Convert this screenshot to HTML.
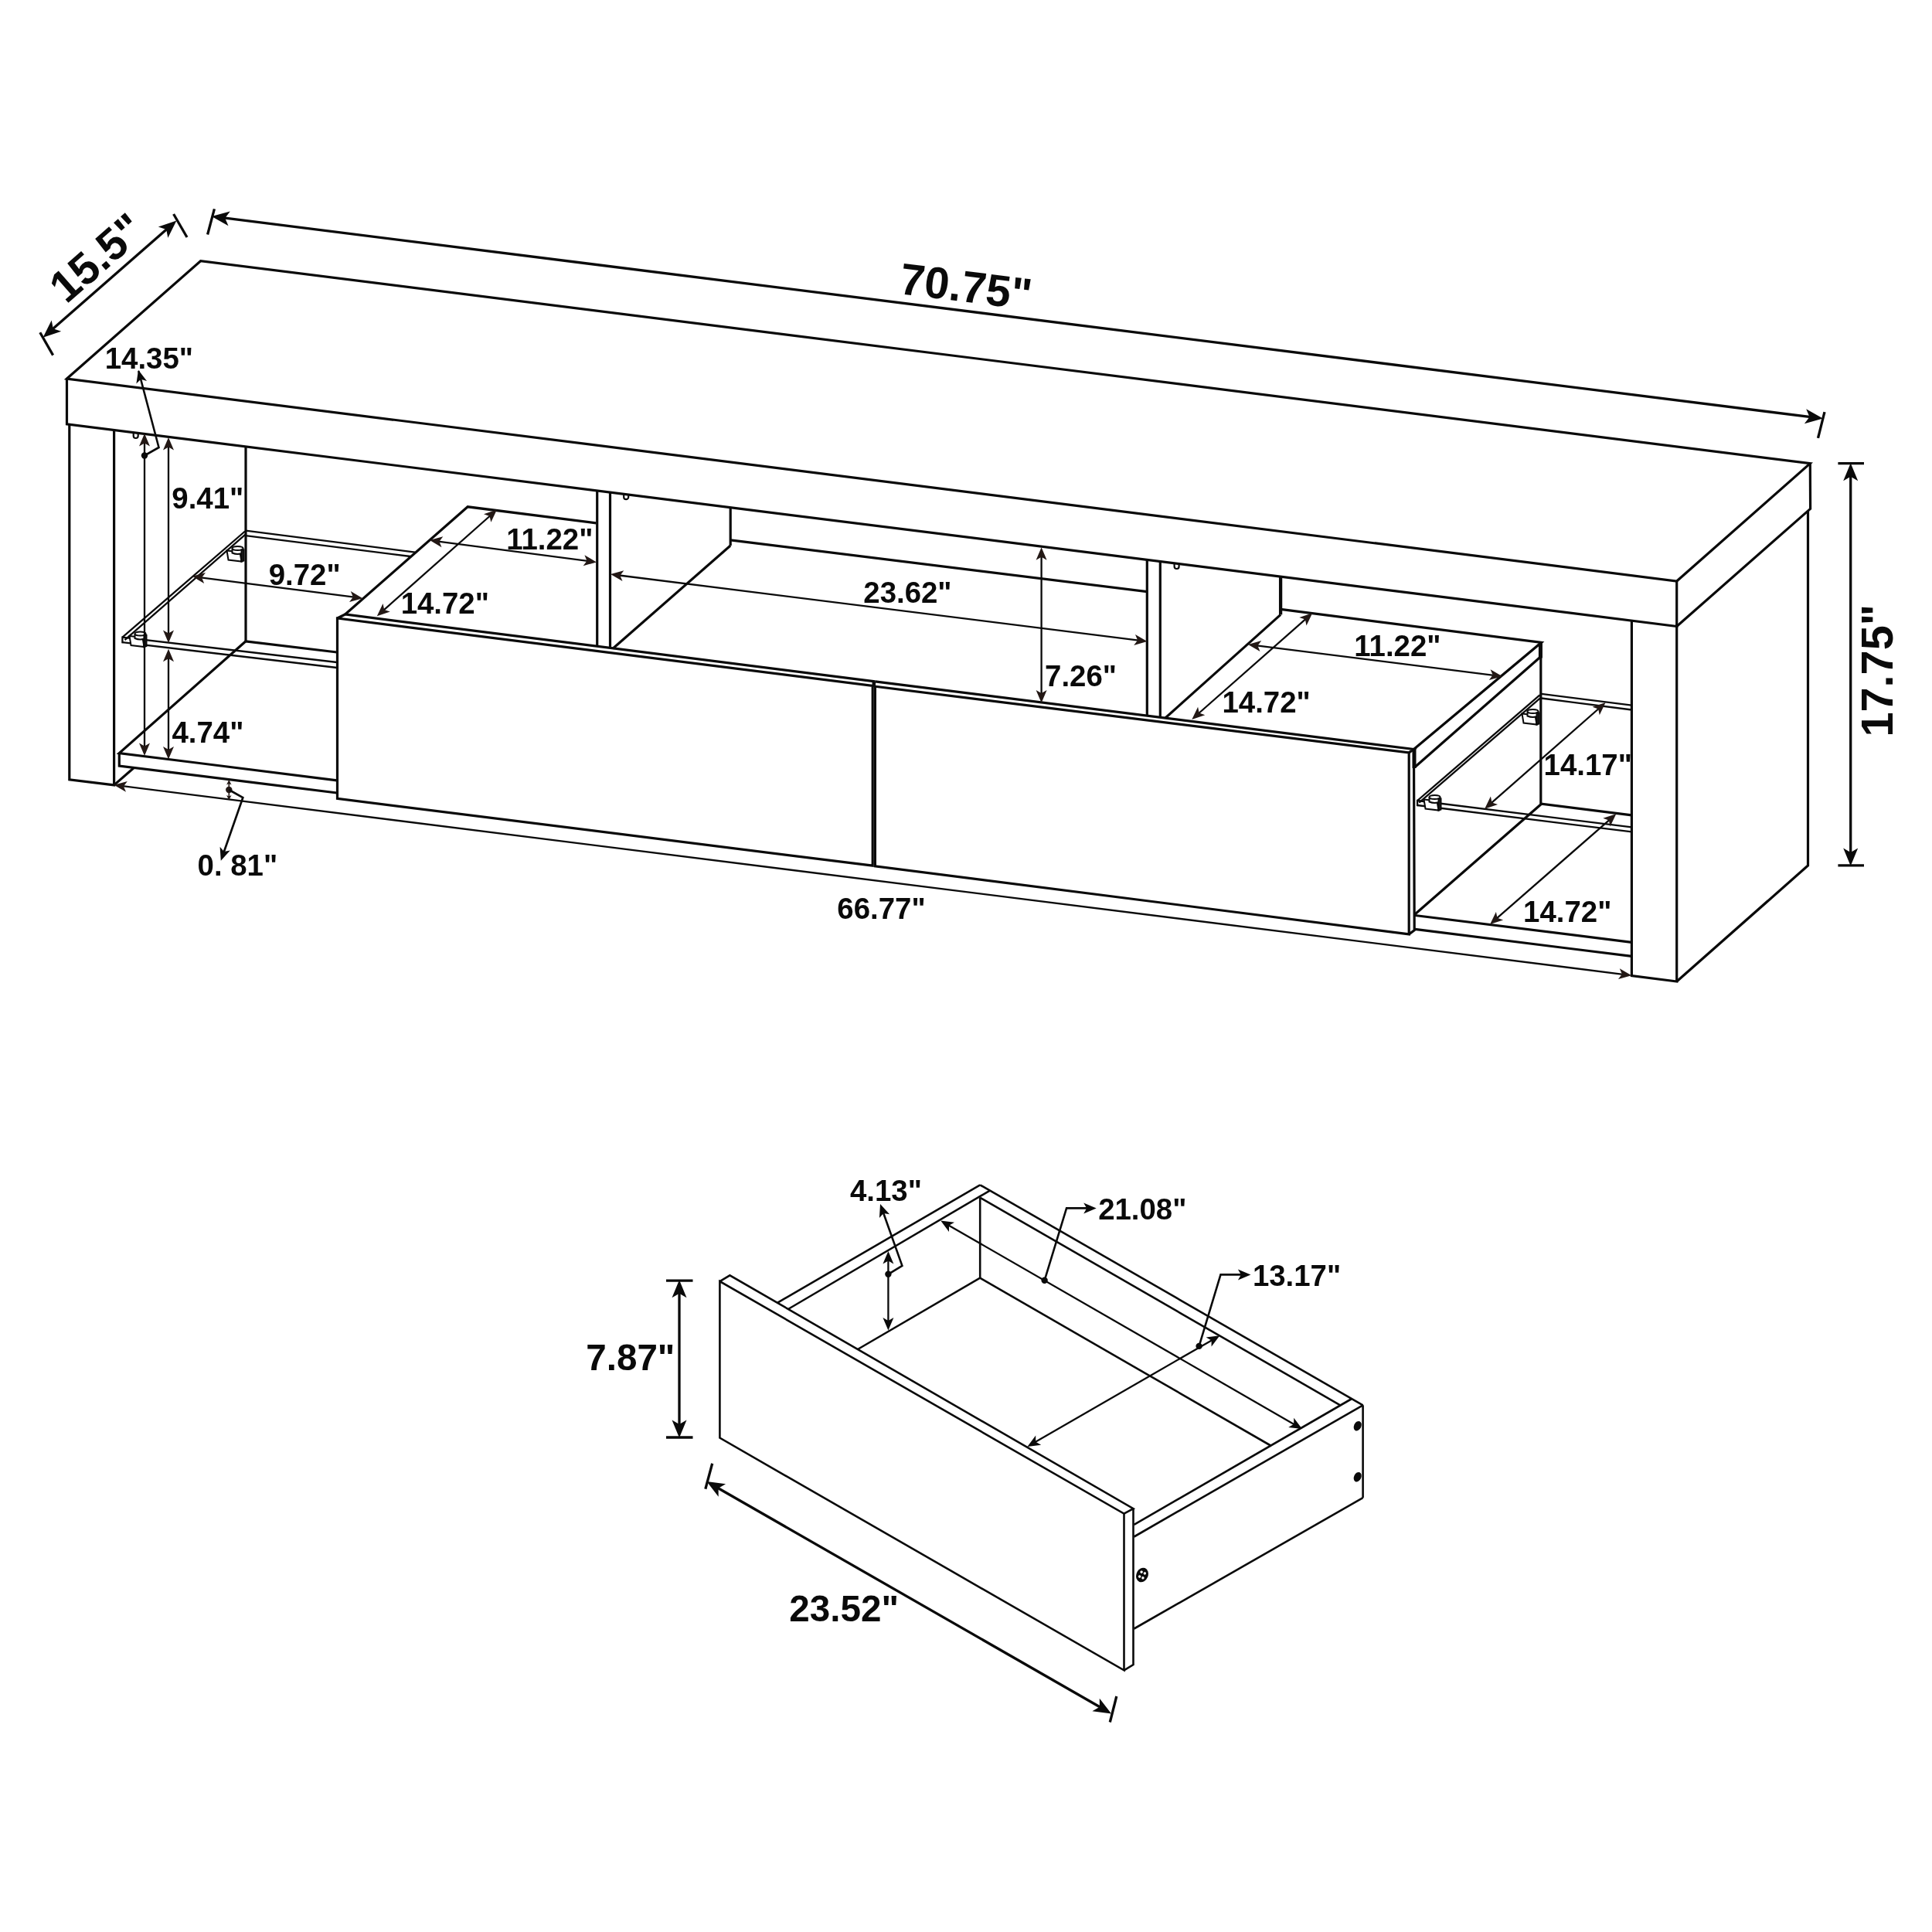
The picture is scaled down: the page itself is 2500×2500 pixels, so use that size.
<!DOCTYPE html>
<html lang="en">
<head>
<meta charset="utf-8">
<title>TV stand dimensions</title>
<style>
html,body{margin:0;padding:0;background:#fff;}
body{width:2500px;height:2500px;overflow:hidden;}
svg{display:block;will-change:transform;}
text{font-family:"Liberation Sans",sans-serif;font-weight:700;}
</style>
</head>
<body>
<svg width="2500" height="2500" viewBox="0 0 2500 2500">
<rect width="2500" height="2500" fill="#fff"/>
<polygon points="86.5,490.0 259.6,337.7 2342.3,599.6 2169.7,752.0" fill="none" stroke="#0a0a0a" stroke-width="3.2" stroke-linejoin="miter"/>
<polyline points="86.5,490.0 86.5,548.8 2169.7,810.5 2169.7,752.0" fill="none" stroke="#0a0a0a" stroke-width="3.2" stroke-linejoin="miter"/>
<polyline points="2169.7,810.5 2342.6,658.4 2342.3,599.6" fill="none" stroke="#0a0a0a" stroke-width="3.2" stroke-linejoin="miter"/>
<polyline points="89.8,549.5 89.8,1008.9 147.6,1015.9 147.6,556.5" fill="none" stroke="#0a0a0a" stroke-width="3.2" stroke-linejoin="miter"/>
<line x1="147.6" y1="1015.9" x2="173.0" y2="993.8" stroke="#0a0a0a" stroke-width="3.2" stroke-linecap="butt"/>
<polyline points="2111.4,803.2 2111.4,1262.7 2169.7,1270.0 2169.7,810.5" fill="none" stroke="#0a0a0a" stroke-width="3.2" stroke-linejoin="miter"/>
<polyline points="2169.7,1270.0 2339.5,1120.0 2339.5,661.5" fill="none" stroke="#0a0a0a" stroke-width="3.2" stroke-linejoin="miter"/>
<line x1="318.0" y1="577.9" x2="318.0" y2="829.8" stroke="#0a0a0a" stroke-width="3.2" stroke-linecap="butt"/>
<line x1="318.0" y1="686.7" x2="537.0" y2="714.6" stroke="#0a0a0a" stroke-width="2.3" stroke-linecap="butt"/>
<line x1="318.0" y1="693.2" x2="531.0" y2="720.0" stroke="#0a0a0a" stroke-width="2.3" stroke-linecap="butt"/>
<line x1="317.0" y1="687.5" x2="158.4" y2="824.6" stroke="#0a0a0a" stroke-width="2.3" stroke-linecap="butt"/>
<line x1="317.5" y1="691.6" x2="161.5" y2="828.2" stroke="#0a0a0a" stroke-width="2.3" stroke-linecap="butt"/>
<line x1="158.4" y1="823.5" x2="158.4" y2="832.3" stroke="#0a0a0a" stroke-width="2.3" stroke-linecap="butt"/>
<line x1="158.4" y1="824.6" x2="436.0" y2="857.0" stroke="#0a0a0a" stroke-width="2.3" stroke-linecap="butt"/>
<line x1="158.4" y1="831.2" x2="436.0" y2="864.0" stroke="#0a0a0a" stroke-width="2.3" stroke-linecap="butt"/>
<polyline points="318.0,829.8 154.3,974.5 436.0,1009.8" fill="none" stroke="#0a0a0a" stroke-width="3.2" stroke-linejoin="miter"/>
<polyline points="154.3,974.5 154.3,991.0 436.0,1026.0" fill="none" stroke="#0a0a0a" stroke-width="3.2" stroke-linejoin="miter"/>
<line x1="318.0" y1="829.8" x2="436.0" y2="844.0" stroke="#0a0a0a" stroke-width="3.2" stroke-linecap="butt"/>
<polygon points="436.5,800.0 436.5,1033.4 1129.2,1120.2 1129.2,887.5" fill="none" stroke="#0a0a0a" stroke-width="3.2" stroke-linejoin="miter"/>
<polyline points="436.5,800.0 446.6,795.0 1132.4,881.8" fill="none" stroke="#0a0a0a" stroke-width="3.2" stroke-linejoin="miter"/>
<polyline points="446.6,795.0 605.2,655.8 771.4,676.8" fill="none" stroke="#0a0a0a" stroke-width="3.2" stroke-linejoin="miter"/>
<line x1="772.7" y1="635.0" x2="772.7" y2="836.3" stroke="#0a0a0a" stroke-width="3.2" stroke-linecap="butt"/>
<line x1="789.5" y1="637.1" x2="789.5" y2="838.4" stroke="#0a0a0a" stroke-width="3.2" stroke-linecap="butt"/>
<line x1="945.2" y1="656.7" x2="945.2" y2="706.0" stroke="#0a0a0a" stroke-width="3.2" stroke-linecap="butt"/>
<line x1="945.2" y1="706.0" x2="793.0" y2="839.2" stroke="#0a0a0a" stroke-width="3.2" stroke-linecap="butt"/>
<line x1="945.2" y1="698.8" x2="1484.3" y2="765.6" stroke="#0a0a0a" stroke-width="3.2" stroke-linecap="butt"/>
<polygon points="1132.4,888.2 1132.4,1120.8 1823.2,1208.9 1823.2,973.9" fill="none" stroke="#0a0a0a" stroke-width="3.2" stroke-linejoin="miter"/>
<polyline points="1132.4,881.8 1829.5,969.5 1823.2,973.9" fill="none" stroke="#0a0a0a" stroke-width="3.2" stroke-linejoin="miter"/>
<line x1="1130.8" y1="881.8" x2="1130.8" y2="889.0" stroke="#0a0a0a" stroke-width="4.5" stroke-linecap="butt"/>
<polyline points="1829.5,969.5 1830.2,1203.7 1823.2,1208.9" fill="none" stroke="#0a0a0a" stroke-width="3.2" stroke-linejoin="miter"/>
<polyline points="1829.5,969.5 1994.6,831.3 1657.1,788.4" fill="none" stroke="#0a0a0a" stroke-width="3.2" stroke-linejoin="miter"/>
<line x1="1830.7" y1="992.8" x2="1992.8" y2="850.5" stroke="#0a0a0a" stroke-width="3.2" stroke-linecap="butt"/>
<line x1="1993.8" y1="831.3" x2="1993.8" y2="1040.0" stroke="#0a0a0a" stroke-width="3.2" stroke-linecap="butt"/>
<line x1="1993.4" y1="830.5" x2="1993.4" y2="851.5" stroke="#0a0a0a" stroke-width="5.0" stroke-linecap="butt"/>
<line x1="1830.0" y1="969.0" x2="1830.0" y2="994.0" stroke="#0a0a0a" stroke-width="5.0" stroke-linecap="butt"/>
<line x1="1484.3" y1="724.4" x2="1484.3" y2="926.1" stroke="#0a0a0a" stroke-width="3.2" stroke-linecap="butt"/>
<line x1="1501.3" y1="726.5" x2="1501.3" y2="928.2" stroke="#0a0a0a" stroke-width="3.2" stroke-linecap="butt"/>
<line x1="1657.1" y1="746.1" x2="1657.1" y2="795.4" stroke="#0a0a0a" stroke-width="4.3" stroke-linecap="butt"/>
<line x1="1657.1" y1="795.4" x2="1508.0" y2="929.0" stroke="#0a0a0a" stroke-width="3.2" stroke-linecap="butt"/>
<line x1="1994.6" y1="897.8" x2="2111.4" y2="912.6" stroke="#0a0a0a" stroke-width="2.3" stroke-linecap="butt"/>
<line x1="1994.6" y1="903.5" x2="2111.4" y2="918.5" stroke="#0a0a0a" stroke-width="2.3" stroke-linecap="butt"/>
<line x1="1992.5" y1="899.3" x2="1834.1" y2="1036.0" stroke="#0a0a0a" stroke-width="2.3" stroke-linecap="butt"/>
<line x1="1993.0" y1="903.4" x2="1836.3" y2="1038.6" stroke="#0a0a0a" stroke-width="2.3" stroke-linecap="butt"/>
<line x1="1834.1" y1="1034.8" x2="1834.1" y2="1043.2" stroke="#0a0a0a" stroke-width="2.3" stroke-linecap="butt"/>
<line x1="1834.1" y1="1036.0" x2="2111.4" y2="1070.4" stroke="#0a0a0a" stroke-width="2.3" stroke-linecap="butt"/>
<line x1="1834.1" y1="1042.0" x2="2111.4" y2="1076.4" stroke="#0a0a0a" stroke-width="2.3" stroke-linecap="butt"/>
<polyline points="2111.4,1054.9 1994.6,1040.2 1831.0,1183.0" fill="none" stroke="#0a0a0a" stroke-width="3.2" stroke-linejoin="miter"/>
<line x1="1831.0" y1="1184.5" x2="2111.4" y2="1219.3" stroke="#0a0a0a" stroke-width="3.2" stroke-linecap="butt"/>
<line x1="1831.0" y1="1202.4" x2="2111.4" y2="1237.4" stroke="#0a0a0a" stroke-width="3.2" stroke-linecap="butt"/>
<path d="M172.7,560.5 v3.5 a3,3 0 0 0 6,0 v-3" fill="none" stroke="#0a0a0a" stroke-width="2.2"/>
<path d="M807.2,639.7 v3.5 a3,3 0 0 0 6,0 v-3" fill="none" stroke="#0a0a0a" stroke-width="2.2"/>
<path d="M1519.6,729.5 v3.5 a3,3 0 0 0 6,0 v-3" fill="none" stroke="#0a0a0a" stroke-width="2.2"/>
<g transform="translate(304.5 717.5)" fill="#fff" stroke="#0a0a0a" stroke-width="2"><path d="M-11,-5 L6,-3 L8,9 L-9,7 Z"/><path d="M-4,-8 L-4,-2 Q3,1 10,-2 L10,-8" /><ellipse cx="3" cy="-8" rx="7" ry="2.6"/><path d="M8,-6 L11,-6 L11,8 L8,9 Z" fill="#222"/></g>
<g transform="translate(178.5 828.0)" fill="#fff" stroke="#0a0a0a" stroke-width="2"><path d="M-11,-5 L6,-3 L8,9 L-9,7 Z"/><path d="M-4,-8 L-4,-2 Q3,1 10,-2 L10,-8" /><ellipse cx="3" cy="-8" rx="7" ry="2.6"/><path d="M8,-6 L11,-6 L11,8 L8,9 Z" fill="#222"/></g>
<g transform="translate(1980.5 928.5)" fill="#fff" stroke="#0a0a0a" stroke-width="2"><path d="M-11,-5 L6,-3 L8,9 L-9,7 Z"/><path d="M-4,-8 L-4,-2 Q3,1 10,-2 L10,-8" /><ellipse cx="3" cy="-8" rx="7" ry="2.6"/><path d="M8,-6 L11,-6 L11,8 L8,9 Z" fill="#222"/></g>
<g transform="translate(1853.5 1039.5)" fill="#fff" stroke="#0a0a0a" stroke-width="2"><path d="M-11,-5 L6,-3 L8,9 L-9,7 Z"/><path d="M-4,-8 L-4,-2 Q3,1 10,-2 L10,-8" /><ellipse cx="3" cy="-8" rx="7" ry="2.6"/><path d="M8,-6 L11,-6 L11,8 L8,9 Z" fill="#222"/></g>
<line x1="63.0" y1="430.2" x2="221.0" y2="292.0" stroke="#0a0a0a" stroke-width="3.3" stroke-linecap="butt"/>
<polygon points="55.6,436.7 66.7,414.4 68.8,425.2 79.2,428.7" fill="#0a0a0a"/>
<polygon points="228.4,285.5 217.3,307.8 215.2,297.0 204.8,293.5" fill="#0a0a0a"/>
<line x1="51.8" y1="430.3" x2="68.6" y2="459.6" stroke="#0a0a0a" stroke-width="3.3" stroke-linecap="butt"/>
<line x1="224.6" y1="277.0" x2="242.0" y2="307.0" stroke="#0a0a0a" stroke-width="3.3" stroke-linecap="butt"/>
<line x1="283.5" y1="281.2" x2="2349.2" y2="540.4" stroke="#0a0a0a" stroke-width="3.3" stroke-linecap="butt"/>
<polygon points="273.8,280.0 297.8,273.4 291.2,282.2 295.5,292.3" fill="#0a0a0a"/>
<polygon points="2358.9,541.6 2334.9,548.2 2341.5,539.4 2337.2,529.3" fill="#0a0a0a"/>
<line x1="277.4" y1="270.4" x2="268.6" y2="303.5" stroke="#0a0a0a" stroke-width="3.3" stroke-linecap="butt"/>
<line x1="2361.0" y1="533.1" x2="2352.5" y2="566.8" stroke="#0a0a0a" stroke-width="3.3" stroke-linecap="butt"/>
<line x1="2394.7" y1="609.0" x2="2394.7" y2="1110.7" stroke="#0a0a0a" stroke-width="3.3" stroke-linecap="butt"/>
<polygon points="2394.7,599.2 2404.2,622.2 2394.7,616.7 2385.2,622.2" fill="#0a0a0a"/>
<polygon points="2394.7,1120.5 2385.2,1097.5 2394.7,1103.0 2404.2,1097.5" fill="#0a0a0a"/>
<line x1="2378.4" y1="599.6" x2="2412.0" y2="599.6" stroke="#0a0a0a" stroke-width="3.3" stroke-linecap="butt"/>
<line x1="2378.4" y1="1119.8" x2="2412.0" y2="1119.8" stroke="#0a0a0a" stroke-width="3.3" stroke-linecap="butt"/>
<line x1="187.0" y1="568.3" x2="187.0" y2="970.6" stroke="#0a0a0a" stroke-width="2.3" stroke-linecap="butt"/>
<polygon points="187.0,561.0 194.0,577.5 187.0,573.5 180.0,577.5" fill="#231815"/>
<polygon points="187.0,977.9 180.0,961.4 187.0,965.4 194.0,961.4" fill="#231815"/>
<polyline points="179.3,480.0 205.5,579.0 187.0,589.5" fill="none" stroke="#0a0a0a" stroke-width="2.5999999999999996" stroke-linejoin="miter"/>
<polygon points="179.0,478.7 190.0,492.9 182.2,490.8 176.4,496.5" fill="#0a0a0a"/>
<circle cx="187.0" cy="589.5" r="4.2" fill="#0a0a0a"/>
<line x1="218.0" y1="573.4" x2="218.0" y2="824.6" stroke="#0a0a0a" stroke-width="2.3" stroke-linecap="butt"/>
<polygon points="218.0,566.1 225.0,582.6 218.0,578.6 211.0,582.6" fill="#231815"/>
<polygon points="218.0,831.9 211.0,815.4 218.0,819.4 225.0,815.4" fill="#231815"/>
<line x1="218.0" y1="847.0" x2="218.0" y2="975.3" stroke="#0a0a0a" stroke-width="2.3" stroke-linecap="butt"/>
<polygon points="218.0,839.7 225.0,856.2 218.0,852.2 211.0,856.2" fill="#231815"/>
<polygon points="218.0,982.6 211.0,966.1 218.0,970.1 225.0,966.1" fill="#231815"/>
<line x1="256.0" y1="746.8" x2="462.0" y2="773.2" stroke="#0a0a0a" stroke-width="2.3" stroke-linecap="butt"/>
<polygon points="248.7,745.8 266.0,741.0 261.1,747.4 264.2,754.9" fill="#231815"/>
<polygon points="469.3,774.2 452.0,779.0 456.9,772.6 453.8,765.1" fill="#231815"/>
<line x1="563.2" y1="700.1" x2="764.7" y2="726.4" stroke="#0a0a0a" stroke-width="2.3" stroke-linecap="butt"/>
<polygon points="556.0,699.1 573.3,694.3 568.4,700.8 571.5,708.2" fill="#231815"/>
<polygon points="771.9,727.4 754.6,732.2 759.5,725.7 756.4,718.3" fill="#231815"/>
<line x1="637.5" y1="664.5" x2="493.3" y2="792.3" stroke="#0a0a0a" stroke-width="2.3" stroke-linecap="butt"/>
<polygon points="643.0,659.6 635.3,675.8 633.6,667.9 626.0,665.3" fill="#231815"/>
<polygon points="487.8,797.2 495.5,781.0 497.2,788.9 504.8,791.5" fill="#231815"/>
<line x1="797.3" y1="744.0" x2="1477.2" y2="829.1" stroke="#0a0a0a" stroke-width="2.3" stroke-linecap="butt"/>
<polygon points="790.0,743.1 807.3,738.2 802.4,744.7 805.5,752.1" fill="#231815"/>
<polygon points="1484.5,830.0 1467.2,834.9 1472.1,828.4 1469.0,821.0" fill="#231815"/>
<line x1="1347.6" y1="715.5" x2="1347.6" y2="902.2" stroke="#0a0a0a" stroke-width="2.3" stroke-linecap="butt"/>
<polygon points="1347.6,708.2 1354.6,724.7 1347.6,720.7 1340.6,724.7" fill="#231815"/>
<polygon points="1347.6,909.5 1340.6,893.0 1347.6,897.0 1354.6,893.0" fill="#231815"/>
<line x1="1692.8" y1="798.1" x2="1547.8" y2="926.0" stroke="#0a0a0a" stroke-width="2.3" stroke-linecap="butt"/>
<polygon points="1698.3,793.2 1690.5,809.4 1688.9,801.5 1681.3,798.9" fill="#231815"/>
<polygon points="1542.3,930.9 1550.1,914.7 1551.7,922.6 1559.3,925.2" fill="#231815"/>
<line x1="1622.3" y1="834.9" x2="1936.8" y2="874.3" stroke="#0a0a0a" stroke-width="2.3" stroke-linecap="butt"/>
<polygon points="1615.0,834.0 1632.3,829.1 1627.4,835.6 1630.5,843.0" fill="#231815"/>
<polygon points="1944.1,875.2 1926.8,880.1 1931.7,873.6 1928.6,866.2" fill="#231815"/>
<line x1="2072.1" y1="914.0" x2="1926.6" y2="1041.9" stroke="#0a0a0a" stroke-width="2.3" stroke-linecap="butt"/>
<polygon points="2077.6,909.1 2069.8,925.3 2068.2,917.4 2060.6,914.8" fill="#231815"/>
<polygon points="1921.1,1046.8 1928.9,1030.6 1930.5,1038.5 1938.1,1041.1" fill="#231815"/>
<line x1="2085.8" y1="1058.1" x2="1933.6" y2="1191.2" stroke="#0a0a0a" stroke-width="2.3" stroke-linecap="butt"/>
<polygon points="2091.3,1053.2 2083.5,1069.4 2081.9,1061.5 2074.3,1058.8" fill="#231815"/>
<polygon points="1928.1,1196.1 1935.9,1179.9 1937.5,1187.8 1945.1,1190.5" fill="#231815"/>
<line x1="154.8" y1="1016.7" x2="2104.0" y2="1261.3" stroke="#0a0a0a" stroke-width="2.3" stroke-linecap="butt"/>
<polygon points="147.5,1015.8 164.8,1010.9 159.9,1017.4 163.0,1024.8" fill="#231815"/>
<polygon points="2111.3,1262.2 2094.0,1267.1 2098.9,1260.6 2095.8,1253.2" fill="#231815"/>
<line x1="296.3" y1="1013.5" x2="296.3" y2="1031.5" stroke="#231815" stroke-width="1.6" stroke-linecap="butt"/>
<polygon points="296.3,1009.0 299.5,1015.5 296.3,1014.0 293.1,1015.5" fill="#231815"/>
<polygon points="296.3,1035.6 293.1,1029.1 296.3,1030.6 299.5,1029.1" fill="#231815"/>
<circle cx="296.3" cy="1022.0" r="4.2" fill="#231815"/>
<polyline points="296.3,1022.0 314.3,1032.2 288.5,1106.0" fill="none" stroke="#0a0a0a" stroke-width="2.6999999999999997" stroke-linejoin="miter"/>
<polygon points="285.8,1113.7 284.6,1095.8 289.9,1101.9 297.8,1100.5" fill="#0a0a0a"/>
<text x="135.73" y="477.00" font-size="38.4" fill="#0a0a0a">14.35"</text>
<text x="222.32" y="657.70" font-size="38.4" fill="#0a0a0a">9.41"</text>
<text x="347.72" y="757.00" font-size="38.4" fill="#0a0a0a">9.72"</text>
<text x="222.45" y="961.00" font-size="38.4" fill="#0a0a0a">4.74"</text>
<text x="655.24" y="710.70" font-size="38.4" fill="#0a0a0a">11.22"</text>
<text x="518.63" y="794.10" font-size="38.4" fill="#0a0a0a">14.72"</text>
<text x="1117.30" y="780.30" font-size="38.4" fill="#0a0a0a">23.62"</text>
<text x="1352.07" y="887.50" font-size="38.4" fill="#0a0a0a">7.26"</text>
<text x="1581.48" y="922.30" font-size="38.4" fill="#0a0a0a">14.72"</text>
<text x="1752.34" y="849.30" font-size="38.4" fill="#0a0a0a">11.22"</text>
<text x="1997.58" y="1002.70" font-size="38.4" fill="#0a0a0a">14.17"</text>
<text x="1971.08" y="1192.80" font-size="38.4" fill="#0a0a0a">14.72"</text>
<text x="1083.36" y="1188.60" font-size="38.4" fill="#0a0a0a">66.77"</text>
<text x="255.54" y="1133.20" font-size="38.4" fill="#0a0a0a">0. 81"</text>
<text x="1162.59" y="379.90" font-size="57.6" transform="rotate(7.1 1162.59 379.90)" fill="#0a0a0a">70.75"</text>
<text x="85.86" y="394.31" font-size="57.6" transform="rotate(-41.2 85.86 394.31)" fill="#0a0a0a">15.5"</text>
<text x="2448.80" y="953.44" font-size="57.6" transform="rotate(-90 2448.80 953.44)" fill="#0a0a0a">17.75"</text>
<polygon points="931.4,1658.1 931.4,1860.6 1454.5,2161.3 1454.5,1958.7" fill="none" stroke="#0a0a0a" stroke-width="2.6" stroke-linejoin="miter"/>
<polyline points="931.4,1658.1 944.4,1650.3 1466.5,1952.2 1454.5,1958.7" fill="none" stroke="#0a0a0a" stroke-width="2.6" stroke-linejoin="miter"/>
<polyline points="1466.5,1952.2 1466.5,2154.1 1454.5,2161.3" fill="none" stroke="#0a0a0a" stroke-width="2.6" stroke-linejoin="miter"/>
<line x1="1005.9" y1="1685.9" x2="1268.2" y2="1533.3" stroke="#0a0a0a" stroke-width="2.6" stroke-linecap="butt"/>
<line x1="1019.9" y1="1694.0" x2="1280.9" y2="1540.6" stroke="#0a0a0a" stroke-width="2.6" stroke-linecap="butt"/>
<line x1="1268.2" y1="1549.7" x2="1268.2" y2="1653.7" stroke="#0a0a0a" stroke-width="2.6" stroke-linecap="butt"/>
<line x1="1268.2" y1="1653.7" x2="1109.9" y2="1746.0" stroke="#0a0a0a" stroke-width="2.6" stroke-linecap="butt"/>
<line x1="1268.2" y1="1533.3" x2="1763.6" y2="1818.3" stroke="#0a0a0a" stroke-width="2.6" stroke-linecap="butt"/>
<line x1="1268.2" y1="1549.7" x2="1735.1" y2="1818.8" stroke="#0a0a0a" stroke-width="2.6" stroke-linecap="butt"/>
<line x1="1268.2" y1="1653.7" x2="1645.0" y2="1871.0" stroke="#0a0a0a" stroke-width="2.6" stroke-linecap="butt"/>
<line x1="1749.1" y1="1810.0" x2="1467.5" y2="1972.9" stroke="#0a0a0a" stroke-width="2.6" stroke-linecap="butt"/>
<line x1="1763.6" y1="1818.3" x2="1467.5" y2="1988.5" stroke="#0a0a0a" stroke-width="2.6" stroke-linecap="butt"/>
<line x1="1763.6" y1="1818.3" x2="1763.6" y2="1938.2" stroke="#0a0a0a" stroke-width="2.6" stroke-linecap="butt"/>
<line x1="1763.6" y1="1938.2" x2="1467.5" y2="2107.5" stroke="#0a0a0a" stroke-width="2.6" stroke-linecap="butt"/>
<ellipse cx="1756.7" cy="1845.2" rx="4.6" ry="6.6" transform="rotate(25 1756.7 1845.2)" fill="#0a0a0a"/>
<ellipse cx="1756.7" cy="1911.2" rx="4.6" ry="6.6" transform="rotate(25 1756.7 1911.2)" fill="#0a0a0a"/>
<g transform="translate(1478 2038) rotate(22)"><ellipse rx="7.6" ry="9.6" fill="#0a0a0a"/><circle cx="-2.3" cy="-3.2" r="1.7" fill="#fff"/><circle cx="2.3" cy="-3.2" r="1.7" fill="#fff"/><circle cx="-2.3" cy="3.2" r="1.7" fill="#fff"/><circle cx="2.3" cy="3.2" r="1.7" fill="#fff"/></g>
<line x1="879.0" y1="1666.1" x2="879.0" y2="1850.8" stroke="#0a0a0a" stroke-width="3.3" stroke-linecap="butt"/>
<polygon points="879.0,1656.3 888.5,1679.3 879.0,1673.8 869.5,1679.3" fill="#0a0a0a"/>
<polygon points="879.0,1860.6 869.5,1837.6 879.0,1843.1 888.5,1837.6" fill="#0a0a0a"/>
<line x1="862.0" y1="1657.1" x2="896.5" y2="1657.1" stroke="#0a0a0a" stroke-width="3.3" stroke-linecap="butt"/>
<line x1="862.0" y1="1860.0" x2="896.5" y2="1860.0" stroke="#0a0a0a" stroke-width="3.3" stroke-linecap="butt"/>
<line x1="922.9" y1="1922.0" x2="1429.6" y2="2212.5" stroke="#0a0a0a" stroke-width="3.3" stroke-linecap="butt"/>
<polygon points="914.4,1917.1 939.1,1920.3 929.6,1925.8 929.7,1936.8" fill="#0a0a0a"/>
<polygon points="1438.1,2217.4 1413.4,2214.2 1422.9,2208.7 1422.8,2197.7" fill="#0a0a0a"/>
<line x1="921.7" y1="1893.7" x2="912.8" y2="1926.7" stroke="#0a0a0a" stroke-width="3.3" stroke-linecap="butt"/>
<line x1="1444.8" y1="2195.0" x2="1436.3" y2="2228.5" stroke="#0a0a0a" stroke-width="3.3" stroke-linecap="butt"/>
<line x1="1149.4" y1="1626.2" x2="1149.4" y2="1714.2" stroke="#0a0a0a" stroke-width="2.3" stroke-linecap="butt"/>
<polygon points="1149.4,1618.9 1156.4,1635.4 1149.4,1631.4 1142.4,1635.4" fill="#0a0a0a"/>
<polygon points="1149.4,1721.5 1142.4,1705.0 1149.4,1709.0 1156.4,1705.0" fill="#0a0a0a"/>
<polyline points="1141.5,1565.0 1167.4,1637.9 1149.4,1648.8" fill="none" stroke="#0a0a0a" stroke-width="2.5999999999999996" stroke-linejoin="miter"/>
<polygon points="1139.0,1558.1 1151.1,1571.3 1143.2,1569.9 1137.9,1576.0" fill="#0a0a0a"/>
<circle cx="1149.4" cy="1648.8" r="4.2" fill="#0a0a0a"/>
<line x1="1223.5" y1="1583.2" x2="1678.7" y2="1845.4" stroke="#0a0a0a" stroke-width="2.3" stroke-linecap="butt"/>
<polygon points="1217.2,1579.6 1235.0,1581.7 1228.0,1585.8 1228.0,1593.9" fill="#0a0a0a"/>
<polygon points="1685.0,1849.0 1667.2,1846.9 1674.2,1842.8 1674.2,1834.7" fill="#0a0a0a"/>
<circle cx="1351.6" cy="1656.8" r="4.2" fill="#0a0a0a"/>
<polyline points="1351.6,1656.8 1380.1,1563.4 1411.0,1563.4" fill="none" stroke="#0a0a0a" stroke-width="2.5999999999999996" stroke-linejoin="miter"/>
<polygon points="1418.7,1563.4 1402.2,1570.4 1406.2,1563.4 1402.2,1556.4" fill="#0a0a0a"/>
<line x1="1572.1" y1="1731.9" x2="1335.7" y2="1868.3" stroke="#0a0a0a" stroke-width="2.3" stroke-linecap="butt"/>
<polygon points="1578.4,1728.3 1567.6,1742.6 1567.6,1734.5 1560.6,1730.4" fill="#0a0a0a"/>
<polygon points="1329.4,1871.9 1340.2,1857.6 1340.2,1865.7 1347.2,1869.8" fill="#0a0a0a"/>
<circle cx="1551.6" cy="1741.9" r="4.2" fill="#0a0a0a"/>
<polyline points="1551.6,1741.9 1579.5,1649.4 1611.0,1649.4" fill="none" stroke="#0a0a0a" stroke-width="2.5999999999999996" stroke-linejoin="miter"/>
<polygon points="1618.4,1649.4 1601.9,1656.4 1605.9,1649.4 1601.9,1642.4" fill="#0a0a0a"/>
<text x="1099.95" y="1554.00" font-size="38.4" fill="#0a0a0a">4.13"</text>
<text x="1421.15" y="1577.70" font-size="38.4" fill="#0a0a0a">21.08"</text>
<text x="1620.88" y="1663.60" font-size="38.4" fill="#0a0a0a">13.17"</text>
<text x="758.23" y="1773.00" font-size="47.6" fill="#0a0a0a">7.87"</text>
<text x="1021.33" y="2097.50" font-size="47.6" fill="#0a0a0a">23.52"</text>
</svg>
</body>
</html>
